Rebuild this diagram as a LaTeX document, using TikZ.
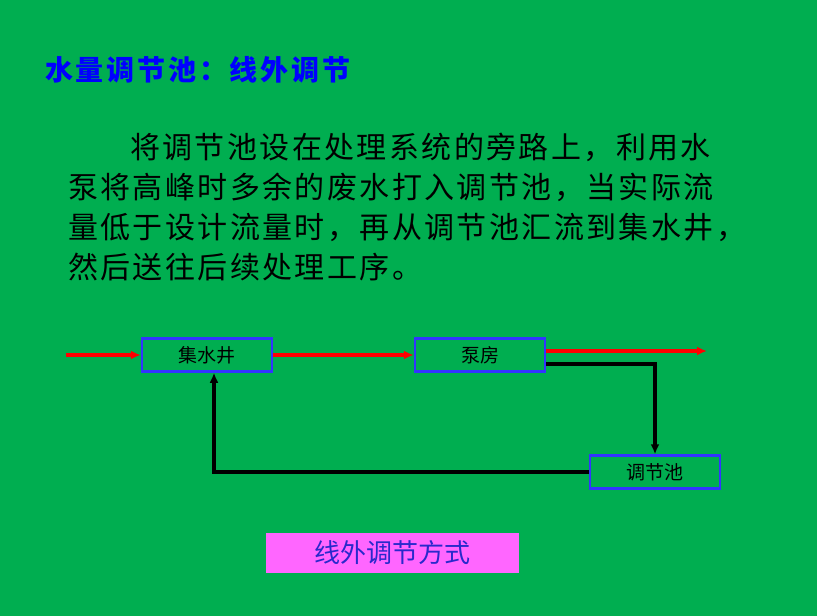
\documentclass[tikz,border=0pt]{standalone}
\usepackage{fontspec}
\usetikzlibrary{arrows.meta}
\newfontfamily\cjk{Noto Sans CJK SC}
\newfontfamily\cjkp[LetterSpace=8]{Noto Sans CJK SC}
\newfontfamily\cjkt[LetterSpace=10]{Noto Sans CJK SC}
\definecolor{bg}{HTML}{00AE50}
\definecolor{bx}{HTML}{3333FF}
\definecolor{pk}{HTML}{FF66FF}
\begin{document}
\begin{tikzpicture}[x=1pt,y=-1pt,
  box/.style={draw=bx,line width=2.5pt,minimum width=130pt,minimum height=33pt,inner sep=0pt,font=\cjk\fontsize{19}{19}\selectfont},
  redarr/.style={draw=red,line width=3.5pt,-{Latex[length=10pt,width=9pt]}},
  blk/.style={draw=black,line width=3.5pt},
  para/.style={anchor=west,inner sep=0pt,font=\cjkp\fontsize{30}{30}\selectfont}]
\useasboundingbox[fill=bg] (0,0) rectangle (817,616);
\node[anchor=west,inner sep=0pt,text=blue,font=\cjkt\bfseries\fontsize{28}{28}\selectfont] (t) at (45,70) {水量调节池：线外调节};
\node[para] (p1) at (130,147) {将调节池设在处理系统的旁路上，利用水};
\node[para] (p2) at (68,187) {泵将高峰时多余的废水打入调节池，当实际流};
\node[para] (p3) at (68,227) {量低于设计流量时，再从调节池汇流到集水井，};
\node[para] (p4) at (68,267) {然后送往后续处理工序。};
\node[box] (a) at (207,355) {集水井};
\node[box] (b) at (480,355) {泵房};
\node[box] (c) at (655,472) {调节池};
\coordinate (in) at (66,355);
\coordinate (out) at (707,351);
\draw[redarr] (in) -- (a.west);
\draw[redarr] (a.east) -- (b.west);
\draw[redarr] (b.east |- out) -- (out);
\draw[blk,-{Latex[length=10pt,width=9pt]}] ([yshift=-9pt]b.east) -| (c.north);
\draw[blk,-{Latex[length=10pt,width=9pt]}] (c.west) -| ([xshift=7pt]a.south);
\node[fill=pk,minimum width=253pt,minimum height=40pt,inner sep=0pt,text=bx!80!black,font=\cjk\fontsize{26}{26}\selectfont] (m) at (392,553) {线外调节方式};
\end{tikzpicture}
\end{document}
